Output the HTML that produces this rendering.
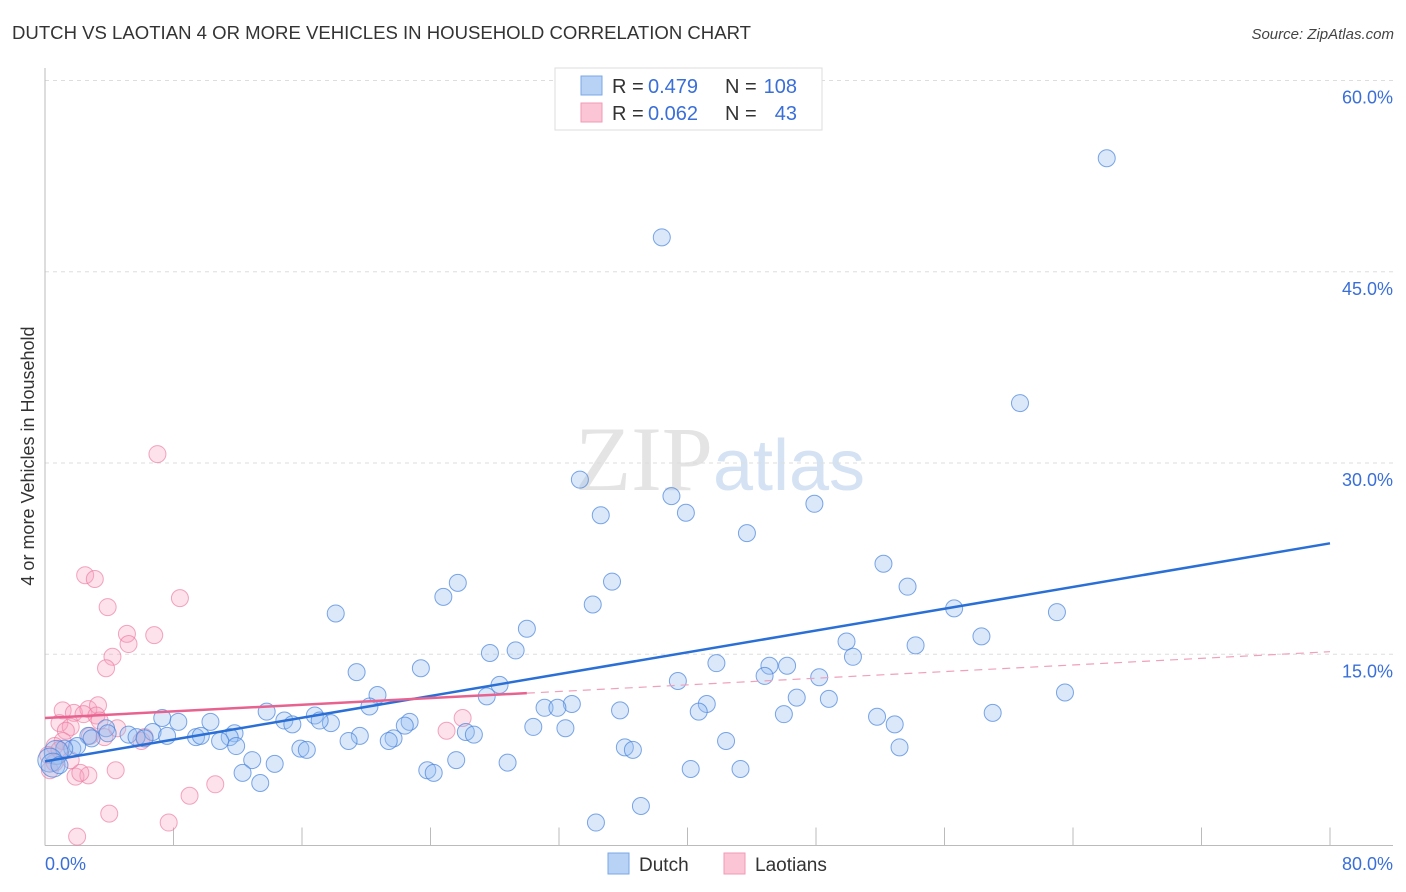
<!DOCTYPE html>
<html><head><meta charset="utf-8">
<style>
body{margin:0;background:#fff;font-family:"Liberation Sans",sans-serif;}
svg{display:block}
</style></head>
<body>
<svg id="chart" width="1406" height="892" xmlns="http://www.w3.org/2000/svg" font-family="Liberation Sans, sans-serif">
<text x="12" y="39" font-size="18" fill="#333" textLength="739" lengthAdjust="spacingAndGlyphs">DUTCH VS LAOTIAN 4 OR MORE VEHICLES IN HOUSEHOLD CORRELATION CHART</text>
<text x="1394" y="39" font-size="15" fill="#444" text-anchor="end" font-style="italic">Source: ZipAtlas.com</text>
<text x="720" y="490" font-size="92" text-anchor="middle" fill="#e4e4e4" font-family="Liberation Serif, serif">ZIP<tspan fill="#d4e2f4" font-family="Liberation Sans, sans-serif" font-size="72">atlas</tspan></text>
<g id="grid"></g>
<g id="axes"></g>
<g id="pts"></g>
<g id="trend"></g>
<text transform="translate(34,456) rotate(-90)" font-size="18" fill="#333" text-anchor="middle">4 or more Vehicles in Household</text>
<g>
<rect x="555" y="68" width="267" height="62" fill="#fff" stroke="#ddd"/>
<rect x="581" y="76" width="21" height="19" fill="#b7d2f5" stroke="#7aa7e6"/>
<rect x="581" y="103" width="21" height="19" fill="#fbc5d5" stroke="#f09ab5"/>
<text x="612" y="93" font-size="20" fill="#333">R =</text>
<text x="648" y="93" font-size="20" fill="#3a6fd8">0.479</text>
<text x="725" y="93" font-size="20" fill="#333">N =</text>
<text x="797" y="93" font-size="20" fill="#3a6fd8" text-anchor="end">108</text>
<text x="612" y="120" font-size="20" fill="#333">R =</text>
<text x="648" y="120" font-size="20" fill="#3a6fd8">0.062</text>
<text x="725" y="120" font-size="20" fill="#333">N =</text>
<text x="797" y="120" font-size="20" fill="#3a6fd8" text-anchor="end">43</text>
</g>
<g>
<rect x="608" y="853" width="21" height="21" fill="#b7d2f5" stroke="#7aa7e6"/>
<text x="639" y="871" font-size="19" fill="#333">Dutch</text>
<rect x="724" y="853" width="21" height="21" fill="#fbc5d5" stroke="#f09ab5"/>
<text x="755" y="871" font-size="19" fill="#333">Laotians</text>
</g>
</svg>
<script>
const yTicks=[15,30,45,60];
const yTickLabels=["15.0%","30.0%","45.0%","60.0%"];
const xTicks=[0,8,16,24,32,40,48,56,64,72,80];
const dutchX=[66.1,38.4,60.7,33.3,39.0,34.6,39.9,43.7,47.9,52.2,53.7,35.3,25.7,24.8,34.1,18.1,56.6,63.0,58.3,30.0,49.9,50.3,54.2,27.7,29.3,23.4,19.4,41.8,45.1,46.2,44.8,48.2,39.4,28.3,63.5,20.7,27.5,46.8,48.8,41.2,40.7,32.8,31.1,31.9,35.8,20.2,13.8,16.8,46.0,51.8,59.0,52.9,22.7,22.4,17.8,14.9,17.1,15.4,8.3,10.3,7.3,30.4,32.4,26.2,26.7,19.6,21.7,21.4,18.9,11.8,6.7,7.6,9.4,9.7,11.5,10.9,5.2,5.7,6.2,3.8,3.9,2.7,2.9,1.7,2.0,1.2,0.7,0.3,0.5,0.9,11.9,15.9,16.3,36.1,36.6,42.4,53.2,12.9,14.3,28.8,25.6,12.3,13.4,23.8,24.2,40.2,43.3,37.1,34.3];
const dutchY=[53.9,47.7,34.7,28.7,27.4,25.9,26.1,24.5,26.8,22.1,20.3,20.7,20.6,19.5,18.9,18.2,18.6,18.3,16.4,17.0,16.0,14.8,15.7,15.1,15.3,13.9,13.6,14.3,14.1,14.1,13.3,13.2,12.9,12.6,12.0,11.8,11.7,11.6,11.5,11.1,10.5,11.1,10.8,10.8,10.6,10.9,10.5,10.2,10.3,10.1,10.4,9.5,9.7,9.4,9.6,9.8,9.8,9.5,9.7,9.7,10.0,9.3,9.2,8.9,8.7,8.6,8.4,8.2,8.2,8.8,8.9,8.6,8.5,8.6,8.5,8.2,8.7,8.5,8.4,9.2,8.8,8.6,8.4,7.6,7.8,7.6,7.3,6.7,6.3,6.3,7.8,7.6,7.5,7.7,7.5,8.2,7.7,6.7,6.4,6.5,6.7,5.7,4.9,5.9,5.7,6.0,6.0,3.1,1.8];
const laoX=[7.0,2.5,3.1,3.9,8.4,5.1,5.2,6.8,4.2,3.8,1.1,1.8,2.7,3.3,2.4,0.9,1.6,1.3,3.2,4.5,3.7,6.0,6.2,1.1,0.6,0.2,0.3,1.9,2.7,2.2,4.4,10.6,9.0,4.0,7.7,2.0,26.0,25.0,0.6,0.9,2.8,3.4,1.6];
const laoY=[30.7,21.2,20.9,18.7,19.4,16.6,15.8,16.5,14.8,13.9,10.6,10.4,10.7,11.0,10.3,9.6,9.3,9.0,10.2,9.2,8.5,8.2,8.5,8.2,7.8,7.1,5.9,5.4,5.5,5.7,5.9,4.8,3.9,2.5,1.8,0.7,10.0,9.0,6.5,7.5,8.6,9.8,6.7];
const dutchTrend=[6.6,23.7];
const laoTrend=[10.0,15.2];
const laoSolidEnd=30;

const NS="http://www.w3.org/2000/svg";
const X0=45,X1=1330,Y0=845.5,YPER=12.75;
const sx=v=>X0+(X1-X0)*v/80;
const sy=v=>Y0-v*YPER;
function mk(tag,attrs,parent){const e=document.createElementNS(NS,tag);for(const k in attrs)e.setAttribute(k,attrs[k]);parent.appendChild(e);return e;}
const grid=document.getElementById('grid'),axes=document.getElementById('axes'),pts=document.getElementById('pts'),trend=document.getElementById('trend');
yTicks.forEach((t,i)=>{
 const l=mk('line',{x1:X0,x2:1393,y1:sy(t),y2:sy(t),stroke:'#ddd','stroke-dasharray':'4,4'},grid);
 
 
 const tx=mk('text',{x:1393,y:sy(t)+23,'font-size':18,fill:'#3a6fd8','text-anchor':'end'},axes);
 tx.textContent=yTickLabels[i];
 
 
});
const ya=mk('line',{x1:X0,x2:X0,y1:68,y2:Y0,stroke:'#bbb'},axes);


const xa=mk('line',{x1:X0,x2:1393,y1:Y0,y2:Y0,stroke:'#bbb'},axes);


xTicks.forEach(t=>{
 const l=mk('line',{x1:sx(t),x2:sx(t),y1:Y0-18,y2:Y0,stroke:'#bbb'},axes);
 
 
});
const xl0=mk('text',{x:45,y:870,'font-size':18,fill:'#3a6fd8'},axes);xl0.textContent='0.0%';


const xl1=mk('text',{x:1393,y:870,'font-size':18,fill:'#3a6fd8','text-anchor':'end'},axes);xl1.textContent='80.0%';



laoX.forEach((x,i)=>{
 const c=mk('circle',{cx:sx(x),cy:sy(laoY[i]),r:8.5,fill:'rgba(247,160,190,0.3)',stroke:'rgba(235,120,160,0.65)','stroke-width':1},pts);
 
 
});
dutchX.forEach((x,i)=>{
 const c=mk('circle',{cx:sx(x),cy:sy(dutchY[i]),r:(i>=86&&i<=88)?12:8.5,fill:'rgba(150,190,240,0.35)',stroke:'rgba(70,130,220,0.7)','stroke-width':1},pts);
 
 
});
const bt=mk('line',{x1:sx(0),y1:sy(dutchTrend[0]),x2:sx(80),y2:sy(dutchTrend[1]),stroke:'#2a6fd6','stroke-width':2.5},trend);


const ly=x=>laoTrend[0]+(laoTrend[1]-laoTrend[0])*x/80;
const pt=mk('line',{x1:sx(0),y1:sy(ly(0)),x2:sx(laoSolidEnd),y2:sy(ly(laoSolidEnd)),stroke:'#e8628f','stroke-width':2.5},trend);


const pd=mk('line',{x1:sx(laoSolidEnd),y1:sy(ly(laoSolidEnd)),x2:sx(80),y2:sy(ly(80)),stroke:'#f0a0bb','stroke-width':1.2,'stroke-dasharray':'8,6'},trend);


</script>
</body></html>
